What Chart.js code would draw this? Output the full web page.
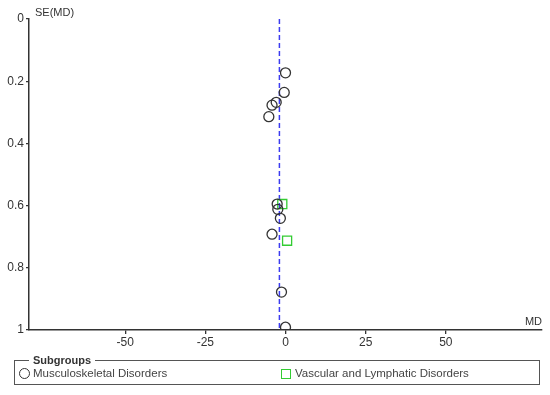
<!DOCTYPE html>
<html>
<head>
<meta charset="utf-8">
<script src="https://cdn.jsdelivr.net/npm/chart.js@4"></script>
<style>
    body { margin: 0; background: #fff; font-family: "Liberation Sans", Arial, sans-serif; }
    #wrap { position: relative; width: 550px; height: 395px; }
    #legendBox { position: absolute; left: 14px; top: 360px; width: 526px; height: 25px;
        box-sizing: border-box; border: 1.5px solid #555; }
    #legendBox .title { position: absolute; left: 14px; top: -8px; padding: 0 4px; background: #fff;
        font-weight: bold; font-size: 11px; line-height: 14px; color: #333; }
    .item { position: absolute; font-size: 11.5px; line-height: 14px; color: #444; white-space: nowrap; }
    .mk { position: absolute; box-sizing: border-box; }
</style>
</head>
<body>
<div id="wrap">
    <canvas id="myChart" width="550" height="395"></canvas>
    <div id="legendBox"><span class="title">Subgroups</span></div>
    <span class="mk" style="left:19px;top:368px;width:11px;height:11px;border:1.5px solid #333;border-radius:50%"></span>
    <span class="item" style="left:33px;top:366px">Musculoskeletal Disorders</span>
    <span class="mk" style="left:281px;top:369px;width:10px;height:10px;border:1.5px solid #33cc33"></span>
    <span class="item" style="left:295px;top:366px">Vascular and Lymphatic Disorders</span>
</div>
<script>
    "use strict";

    // data
    var muscMD = [0, -0.4, -2.9, -4.2, -5.2, -2.6, -2.4, -1.6, -4.2, -1.25, 0];
    var muscSE = [0.173, 0.236, 0.268, 0.277, 0.314, 0.595, 0.612, 0.641, 0.692, 0.878, 0.991];
    var vascMD = [-1.0, 0.5];
    var vascSE = [0.595, 0.713];
    var pooledMD = -1.9;
    var xTicks = [-50, -25, 0, 25, 50];
    var yTicks = [0, 0.2, 0.4, 0.6, 0.8, 1];

    function toPoints(xs, ys) {
        return xs.map(function (x, i) { return { x: x, y: ys[i] }; });
    }

    // axis names sit at the ends of the axes
    var axisNames = {
        id: 'axisNames',
        afterDraw: function (chart) {
            var c = chart.ctx, a = chart.chartArea;
            c.save();
            c.fillStyle = '#333';
            c.font = '11px "Liberation Sans", Arial, sans-serif';
            c.textBaseline = 'middle';
            c.textAlign = 'left';
            c.fillText('SE(MD)', a.left + 6, a.top - 6);
            c.textAlign = 'right';
            c.textBaseline = 'bottom';
            c.fillText('MD', a.right, a.bottom - 3);
            c.restore();
        }
    };

    var ctx = document.getElementById('myChart').getContext('2d');
    var chart = new Chart(ctx, {
        type: 'scatter',
        data: {
            datasets: [
                {
                    label: 'Musculoskeletal Disorders',
                    data: toPoints(muscMD, muscSE),
                    pointStyle: 'circle',
                    pointRadius: 5,
                    pointBorderWidth: 1.3,
                    borderColor: '#333',
                    backgroundColor: 'rgba(0,0,0,0)'
                },
                {
                    label: 'Vascular and Lymphatic Disorders',
                    data: toPoints(vascMD, vascSE),
                    pointStyle: 'rect',
                    pointRadius: 6.4,
                    pointBorderWidth: 1.3,
                    borderColor: '#33cc33',
                    backgroundColor: 'rgba(0,0,0,0)'
                },
                {
                    label: 'pooled',
                    data: [{ x: pooledMD, y: 0 }, { x: pooledMD, y: 1 }],
                    showLine: true,
                    pointRadius: 0,
                    borderColor: '#3c3cf0',
                    borderWidth: 1.5,
                    borderDash: [5, 3]
                }
            ]
        },
        options: {
            responsive: false,
            animation: false,
            layout: { padding: { left: 0, top: 19, right: 8, bottom: 43 } },
            plugins: {
                legend: { display: false },
                tooltip: { enabled: false }
            },
            scales: {
                x: {
                    type: 'linear',
                    position: 'bottom',
                    min: -80,
                    max: 80,
                    afterBuildTicks: function (s) { s.ticks = xTicks.map(function (v) { return { value: v }; }); },
                    afterFit: function (s) { s.height = 22; },
                    grid: { drawOnChartArea: false, drawTicks: true, tickLength: 4, color: '#333', lineWidth: 1.3 },
                    border: { display: true, color: '#333', width: 1.5 },
                    ticks: {
                        padding: 1,
                        color: '#333',
                        font: { size: 12, family: '"Liberation Sans", Arial, sans-serif' },
                        callback: function (v) { return String(v); }
                    }
                },
                y: {
                    type: 'linear',
                    position: 'left',
                    reverse: true,
                    min: 0,
                    max: 1,
                    afterBuildTicks: function (s) { s.ticks = yTicks.map(function (v) { return { value: v }; }); },
                    afterFit: function (s) { s.width = 29; },
                    grid: { drawOnChartArea: false, drawTicks: true, tickLength: 3, color: '#333', lineWidth: 1.3 },
                    border: { display: true, color: '#333', width: 1.5 },
                    ticks: {
                        padding: 2,
                        color: '#333',
                        font: { size: 12, family: '"Liberation Sans", Arial, sans-serif' },
                        callback: function (v) { return String(Math.round(v * 10) / 10); }
                    }
                }
            }
        },
        plugins: [axisNames]
    });
</script>
</body>
</html>
